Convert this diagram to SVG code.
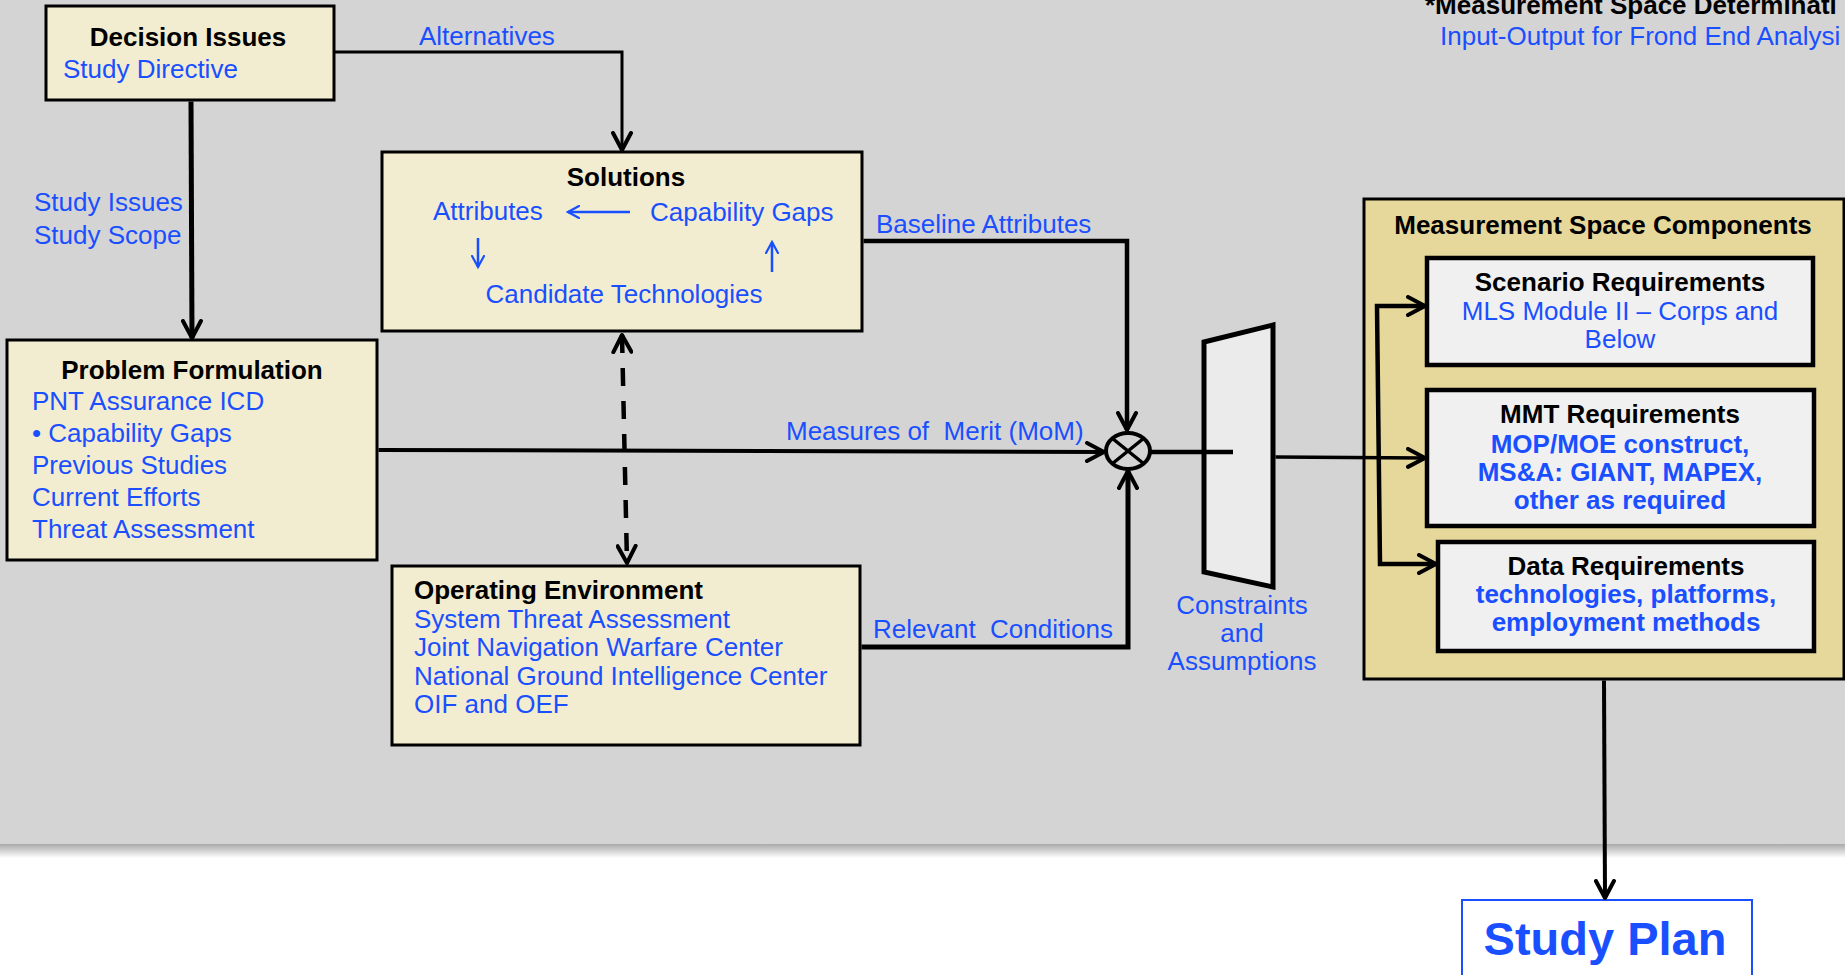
<svg xmlns="http://www.w3.org/2000/svg" width="1845" height="975" viewBox="0 0 1845 975">
<style>
text{font-family:"Liberation Sans",Arial,Helvetica,sans-serif;font-size:26px}
.b{font-weight:bold;fill:#000}
.bl{fill:#1a4fff}
.bb{fill:#1a4fff;font-weight:bold}
.c{text-anchor:middle}
.box{fill:#f2ecd0;stroke:#000;stroke-width:3}
.sub{fill:#f0f0f0;stroke:#000;stroke-width:4.5}
.ln{fill:none;stroke:#000;stroke-linejoin:miter}
.bln{fill:none;stroke:#1a4fff;stroke-width:2.5}
</style>
<defs>
<marker id="ah" viewBox="0 0 22 22" refX="19" refY="11" markerWidth="22" markerHeight="22" markerUnits="userSpaceOnUse" orient="auto-start-reverse">
<path d="M2,2 L19,11 L2,20" fill="none" stroke="#000" stroke-width="4" stroke-linecap="round" stroke-linejoin="round"/>
</marker>
<marker id="bah" viewBox="0 0 14 14" refX="12" refY="7" markerWidth="14" markerHeight="14" markerUnits="userSpaceOnUse" orient="auto">
<path d="M1,1 L12,7 L1,13" fill="none" stroke="#1a4fff" stroke-width="2.2" stroke-linecap="round"/>
</marker>
<linearGradient id="shadow" x1="0" y1="0" x2="0" y2="1">
<stop offset="0" stop-color="#a9a9a9"/>
<stop offset="1" stop-color="#ffffff"/>
</linearGradient>
</defs>
<rect x="0" y="0" width="1845" height="975" fill="#ffffff"/>
<rect x="0" y="0" width="1845" height="844" fill="#d4d4d4"/>
<rect x="0" y="844" width="1845" height="14" fill="url(#shadow)"/>

<g id="header">
<text class="b" x="1425" y="14">*Measurement Space Determinati</text>
<text class="bl" x="1440" y="45">Input-Output for Frond End Analysi</text>
</g>

<g id="decision-issues">
<rect class="box" x="46" y="6" width="288" height="94"/>
<text class="b c" x="188" y="46">Decision Issues</text>
<text class="bl" x="63" y="78">Study Directive</text>
</g>

<g id="solutions">
<rect class="box" x="382" y="152" width="480" height="179"/>
<text class="b c" x="626" y="186">Solutions</text>
<text class="bl" x="433" y="220">Attributes</text>
<text class="bl" x="650" y="221">Capability Gaps</text>
<text class="bl c" x="624" y="303">Candidate Technologies</text>
<path class="bln" d="M630,212 L568,212" marker-end="url(#bah)"/>
<path class="bln" d="M478,238 L478,267" marker-end="url(#bah)"/>
<path class="bln" d="M772,272 L772,242" marker-end="url(#bah)"/>
</g>

<g id="problem-formulation">
<rect class="box" x="7" y="340" width="370" height="220"/>
<text class="b c" x="192" y="379">Problem Formulation</text>
<text class="bl" x="32" y="410">PNT Assurance ICD</text>
<text class="bl" x="32" y="442">• Capability Gaps</text>
<text class="bl" x="32" y="474">Previous Studies</text>
<text class="bl" x="32" y="506">Current Efforts</text>
<text class="bl" x="32" y="538">Threat Assessment</text>
</g>

<g id="operating-environment">
<rect class="box" x="392" y="566" width="468" height="179"/>
<text class="b" x="414" y="599">Operating Environment</text>
<text class="bl" x="414" y="628">System Threat Assessment</text>
<text class="bl" x="414" y="656">Joint Navigation Warfare Center</text>
<text class="bl" x="414" y="685">National Ground Intelligence Center</text>
<text class="bl" x="414" y="713">OIF and OEF</text>
</g>

<g id="junction">
<ellipse cx="1128" cy="451" rx="22" ry="18" fill="#d4d4d4" stroke="#000" stroke-width="4"/>
<path class="ln" stroke-width="3.5" d="M1112.5,438.5 L1143.5,463.5 M1112.5,463.5 L1143.5,438.5"/>
</g>

<g id="constraints">
<path d="M1204,342 L1273,325 L1273,587 L1204,572 Z" fill="#ebebeb" stroke="#000" stroke-width="5" stroke-linejoin="miter"/>
<text class="bl c" x="1242" y="614">Constraints</text>
<text class="bl c" x="1242" y="642">and</text>
<text class="bl c" x="1242" y="670">Assumptions</text>
</g>

<g id="measurement-space-components">
<rect x="1364" y="199" width="480" height="480" fill="#e6d89b" stroke="#000" stroke-width="3"/>
<text class="b c" x="1603" y="234">Measurement Space Components</text>
</g>

<g id="scenario-requirements">
<rect class="sub" x="1427" y="258" width="386" height="107"/>
<text class="b c" x="1620" y="291">Scenario Requirements</text>
<text class="bl c" x="1620" y="320">MLS Module II – Corps and</text>
<text class="bl c" x="1620" y="348">Below</text>
</g>

<g id="mmt-requirements">
<rect class="sub" x="1427" y="390" width="387" height="136"/>
<text class="b c" x="1620" y="423">MMT Requirements</text>
<text class="bb c" x="1620" y="453">MOP/MOE construct,</text>
<text class="bb c" x="1620" y="481">MS&amp;A: GIANT, MAPEX,</text>
<text class="bb c" x="1620" y="509">other as required</text>
</g>

<g id="data-requirements">
<rect class="sub" x="1438" y="542" width="376" height="109"/>
<text class="b c" x="1626" y="575">Data Requirements</text>
<text class="bb c" x="1626" y="603">technologies, platforms,</text>
<text class="bb c" x="1626" y="631">employment methods</text>
</g>

<g id="study-plan">
<rect x="1462" y="900" width="290" height="90" fill="#ffffff" stroke="#1a4fff" stroke-width="2"/>
<text class="bb c" x="1605" y="955" style="font-size:47px">Study Plan</text>
</g>

<g id="connectors">
<!-- Decision -> Solutions (Alternatives) -->
<path class="ln" stroke-width="3" d="M334,52 L622,52 L622,150" marker-end="url(#ah)"/>
<text class="bl" x="419" y="45">Alternatives</text>
<!-- Decision -> Problem Formulation -->
<path class="ln" stroke-width="5" d="M191,101.5 L192,338" marker-end="url(#ah)"/>
<text class="bl" x="34" y="211">Study Issues</text>
<text class="bl" x="34" y="244">Study Scope</text>
<!-- Solutions <-> Operating Environment dashed -->
<path class="ln" stroke-width="4.5" stroke-dasharray="18 15" d="M622,335 L627,563" marker-start="url(#ah)" marker-end="url(#ah)"/>
<!-- MoM -->
<path class="ln" stroke-width="4" d="M378.5,450 L1104,452" marker-end="url(#ah)"/>
<text class="bl" x="786" y="440" xml:space="preserve">Measures of  Merit (MoM)</text>
<!-- Baseline Attributes -->
<path class="ln" stroke-width="4.5" d="M863.5,241 L1127,241 L1127,430" marker-end="url(#ah)"/>
<text class="bl" x="876" y="233">Baseline Attributes</text>
<!-- Relevant Conditions -->
<path class="ln" stroke-width="5" d="M861.5,647 L1128,647 L1128,471" marker-end="url(#ah)"/>
<text class="bl" x="873" y="638" xml:space="preserve">Relevant  Conditions</text>
<!-- junction -> trapezoid -->
<path class="ln" stroke-width="4.5" d="M1150,452 L1233,452"/>
<!-- trapezoid -> MSC bracket -->
<path class="ln" stroke-width="3.5" d="M1275.5,457 L1425,458" marker-end="url(#ah)"/>
<path class="ln" stroke-width="4.5" d="M1425,306 L1377,306 L1380,564 L1436,564" marker-start="url(#ah)" marker-end="url(#ah)"/>
<!-- MSC -> Study Plan -->
<path class="ln" stroke-width="4" d="M1604,680.5 L1605,898" marker-end="url(#ah)"/>
</g>
</svg>
